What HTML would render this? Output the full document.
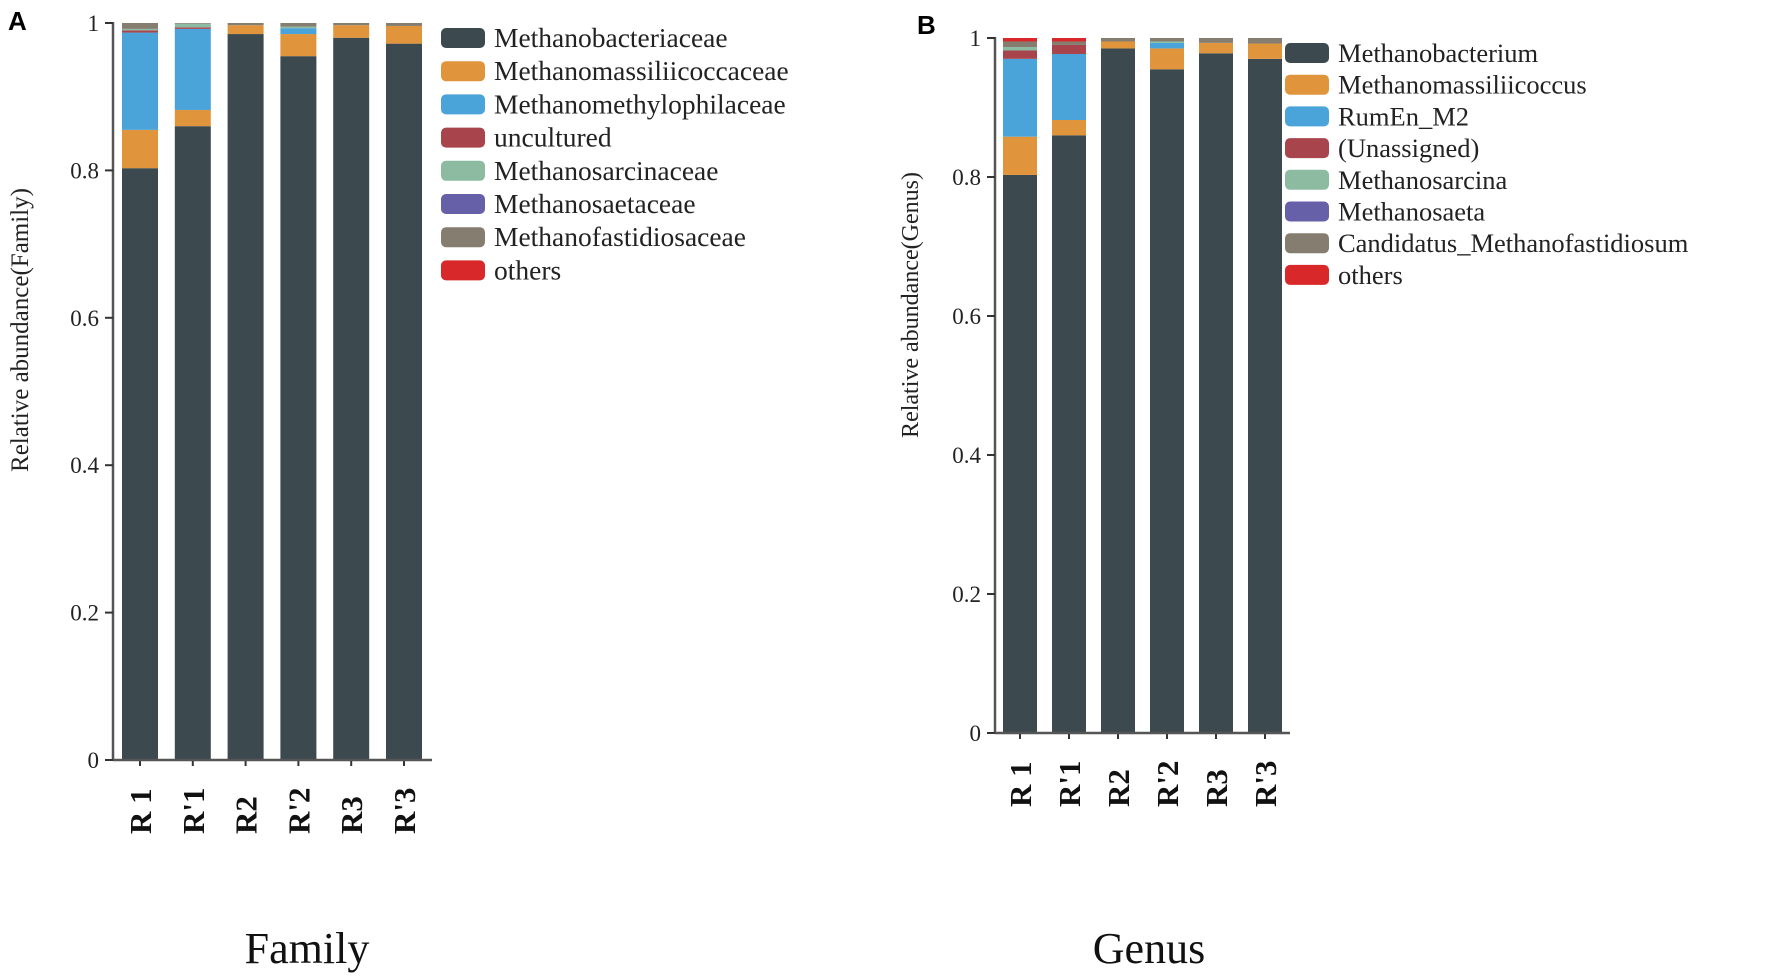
<!DOCTYPE html>
<html><head><meta charset="utf-8"><style>
html,body{margin:0;padding:0;background:#fff;}
svg{display:block;font-family:"Liberation Serif",serif;}
</style></head><body>
<svg id="s" width="1772" height="976" viewBox="0 0 1772 976">
<text x="8" y="30" font-family="Liberation Sans" font-weight="bold" font-size="26">A</text>
<text x="917" y="34" font-family="Liberation Sans" font-weight="bold" font-size="26">B</text>
<text x="307" y="963" text-anchor="middle" font-size="44" fill="#111">Family</text>
<text x="1149" y="963" text-anchor="middle" font-size="44" fill="#111">Genus</text>
<text transform="translate(28,330) rotate(-90)" text-anchor="middle" font-size="25" fill="#222">Relative abundance(Family)</text>
<text transform="translate(918,305) rotate(-90)" text-anchor="middle" font-size="24" fill="#222">Relative abundance(Genus)</text>
</svg>
<script>
const samples=["R 1","R'1","R2","R'2","R3","R'3"];
const famNames=["Methanobacteriaceae","Methanomassiliicoccaceae","Methanomethylophilaceae","uncultured","Methanosarcinaceae","Methanosaetaceae","Methanofastidiosaceae","others"];
const genNames=["Methanobacterium","Methanomassiliicoccus","RumEn_M2","(Unassigned)","Methanosarcina","Methanosaeta","Candidatus_Methanofastidiosum","others"];
const colors=["#3c4a50","#e0953c","#4aa3d9","#a8444c","#8dbba2","#6660a8","#857e70","#d8282a"];
const famVals=[
[0.803,0.860,0.985,0.955,0.980,0.972],
[0.052,0.022,0.012,0.030,0.017,0.024],
[0.132,0.110,0.000,0.008,0.000,0.000],
[0.003,0.002,0.000,0.000,0.000,0.000],
[0.002,0.005,0.000,0.002,0.000,0.000],
[0.000,0.000,0.000,0.000,0.000,0.000],
[0.008,0.001,0.003,0.005,0.003,0.004],
[0.000,0.000,0.000,0.000,0.000,0.000]];
const genVals=[
[0.803,0.860,0.985,0.955,0.978,0.970],
[0.055,0.022,0.010,0.030,0.015,0.022],
[0.112,0.095,0.000,0.008,0.000,0.000],
[0.012,0.013,0.000,0.000,0.000,0.000],
[0.005,0.000,0.000,0.002,0.000,0.000],
[0.000,0.000,0.000,0.000,0.000,0.000],
[0.008,0.005,0.005,0.005,0.007,0.008],
[0.005,0.005,0.000,0.000,0.000,0.000]];
const yTicks=[0,0.2,0.4,0.6,0.8,1];
const yTickLabels=["0","0.2","0.4","0.6","0.8","1"];
const svg=document.getElementById('s');
const NS='http://www.w3.org/2000/svg';
function mk(t,a,txt){const e=document.createElementNS(NS,t);for(const k in a)e.setAttribute(k,a[k]);if(txt!==undefined)e.textContent=txt;svg.appendChild(e);return e;}
function panel(p,names,vals){
  const y=v=>p.y0-(p.y0-p.y1)*v;
  const x=i=>p.bx0+i*p.step;
  samples.forEach((s,i)=>{
    let acc=0;
    vals.forEach((ser,k)=>{
      const v=ser[i]; if(v<=0){return;}
      const r=mk('rect',{x:x(i),y:y(acc+v),width:p.bw,height:y(acc)-y(acc+v),fill:colors[k]});
      
      
      acc+=v;
    });
    const t=mk('line',{x1:x(i)+p.bw/2,x2:x(i)+p.bw/2,y1:p.y0,y2:p.y0+6,stroke:'#333','stroke-width':2});
    
    
    const lb=mk('text',{transform:`translate(${x(i)+p.bw/2+11},${p.y0+74}) rotate(-90)`,'font-size':31,'font-weight':'bold',fill:'#111'},s);
    
    
  });
  const ax=mk('line',{x1:p.ax,x2:p.ax,y1:p.y1-1,y2:p.y0,stroke:'#555','stroke-width':2.5});
  
  
  const xa=mk('line',{x1:p.ax,x2:p.xEnd,y1:p.y0,y2:p.y0,stroke:'#555','stroke-width':2.5});
  
  
  yTicks.forEach((v,j)=>{
    const tk=mk('line',{x1:p.ax-8,x2:p.ax,y1:y(v),y2:y(v),stroke:'#333','stroke-width':2});
    
    
    const tl=mk('text',{x:p.ax-14,y:y(v)+8,'text-anchor':'end','font-size':23,fill:'#222'},yTickLabels[j]);
    
    
  });
  names.forEach((n,k)=>{
    const cy=p.ly+k*p.lstep;
    const sw=mk('rect',{x:p.lx,y:cy-10,width:44,height:20,rx:5,fill:colors[k]});
    
    
    const tx=mk('text',{x:p.lx+53,y:cy+9,'font-size':p.fs,fill:'#222'},n);
    
    
  });
}
panel({id:'family',y0:760,y1:23,ax:113,xEnd:432,bx0:122,step:52.8,bw:36,lx:441,ly:38,lstep:33.2,fs:27.5},famNames,famVals);
panel({id:'genus',y0:733,y1:38,ax:995,xEnd:1290,bx0:1003,step:49,bw:34,lx:1285,ly:53,lstep:31.7,fs:26.5},genNames,genVals);
</script>
</body></html>
